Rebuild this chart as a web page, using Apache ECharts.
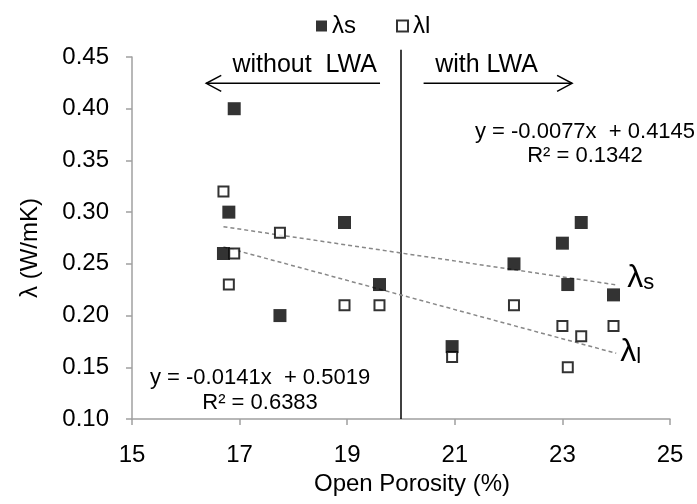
<!DOCTYPE html>
<html>
<head>
<meta charset="utf-8">
<script src="https://cdn.jsdelivr.net/npm/echarts@6/dist/echarts.min.js"></script>
<style>
  html, body { margin: 0; padding: 0; background: #fff; }
  #chart { width: 697px; height: 504px; }
</style>
</head>
<body>
<div id="chart"></div>
<script>
// Open porosity (%) and thermal conductivity (W/mK) of each mix
const porosityS = [16.9, 16.8, 16.7, 18.95, 17.75, 19.6, 23.35, 23.0, 22.1, 23.1, 23.95, 20.95];
const lambdaS   = [0.40, 0.30, 0.26, 0.29, 0.20, 0.23, 0.29, 0.27, 0.25, 0.23, 0.22, 0.17];
const porosityL = [16.7, 16.9, 17.75, 16.8, 18.95, 19.6, 22.1, 23.0, 23.95, 23.35, 23.1, 20.95];
const lambdaL   = [0.32, 0.26, 0.28, 0.23, 0.21, 0.21, 0.21, 0.19, 0.19, 0.18, 0.15, 0.16];

// Linear fits (slope, intercept, R²) and the porosity span they cover
const fitS = [-0.0077, 0.4145, 0.1342];
const fitL = [-0.0141, 0.5019, 0.6383];
const fitRange = [16.7, 24];

// Boundary between mixes without and with lightweight aggregate
const lwaBoundary = 20;

const seriesNames = ['λs', 'λl'];
const FONT = '"Liberation Sans", Arial, sans-serif';

const zip = (xs, ys) => xs.map((x, i) => [x, ys[i]]);
const fitLine = f => fitRange.map(x => [x, +(f[0] * x + f[1]).toFixed(5)]);
const eqText = f => 'y = ' + f[0].toFixed(4) + 'x  + ' + f[1].toFixed(4);
const r2Text = f => 'R² = ' + f[2].toFixed(4);

const chart = echarts.init(document.getElementById('chart'));

const axisGray = '#a0a0a0';
const trendStyle = { color: '#888', width: 1.5, type: [4, 3] };

// λ with a subscript, drawn at the end of each fit line
function trendLabel(sub, distance, dy) {
  return {
    show: true,
    distance: distance,
    offset: [0, dy],
    formatter: '{a|λ}{b|' + sub + '}',
    rich: {
      a: { fontFamily: FONT, fontSize: 32, lineHeight: 32, color: '#000', verticalAlign: 'top' },
      b: { fontFamily: FONT, fontSize: 22, lineHeight: 22, color: '#000', verticalAlign: 'bottom', padding: [14, 0, 0, 0] }
    }
  };
}

chart.setOption({
  animation: false,
  backgroundColor: '#fff',
  textStyle: { fontFamily: FONT },
  grid: { left: 132, right: 27, top: 57, bottom: 85 },
  legend: {
    data: seriesNames,
    top: 9,
    left: 311,
    itemWidth: 11,
    itemHeight: 11,
    itemGap: 40,
    icon: 'rect',
    textStyle: { fontFamily: FONT, fontSize: 24, color: '#000' }
  },
  xAxis: {
    type: 'value',
    min: 15, max: 25, interval: 2,
    name: 'Open Porosity (%)',
    nameLocation: 'middle',
    nameGap: 50,
    nameTextStyle: { fontFamily: FONT, fontSize: 24, color: '#000', padding: [0, 0, 0, 22] },
    axisLine: { show: true, lineStyle: { color: axisGray, width: 1.5 } },
    axisTick: { show: true, length: 6, lineStyle: { color: axisGray, width: 1.5 } },
    axisLabel: { fontFamily: FONT, fontSize: 24, color: '#000', margin: 24 },
    splitLine: { show: false }
  },
  yAxis: {
    type: 'value',
    min: 0.1, max: 0.45, interval: 0.05,
    name: 'λ (W/mK)',
    nameLocation: 'middle',
    nameGap: 90,
    nameTextStyle: { fontFamily: FONT, fontSize: 24, color: '#000', padding: [0, 20, 0, 0] },
    axisLine: { show: true, lineStyle: { color: axisGray, width: 1.5 } },
    axisTick: { show: true, length: 6, lineStyle: { color: axisGray, width: 1.5 } },
    axisLabel: { fontFamily: FONT, fontSize: 24, color: '#000', margin: 23, formatter: v => v.toFixed(2) },
    splitLine: { show: false }
  },
  series: [
    {
      name: 'boundary',
      type: 'line',
      data: [[lwaBoundary, 0.1], [lwaBoundary, 0.457]],
      symbol: 'none',
      clip: false,
      silent: true,
      lineStyle: { color: '#000', width: 1.5 },
      z: 1
    },
    {
      name: 'fitS',
      type: 'line',
      data: fitLine(fitS),
      symbol: 'none',
      lineStyle: trendStyle,
      endLabel: trendLabel('s', 11, -6.5),
      z: 2
    },
    {
      name: 'fitL',
      type: 'line',
      data: fitLine(fitL),
      symbol: 'none',
      lineStyle: trendStyle,
      endLabel: trendLabel('l', 4, -1),
      z: 2
    },
    {
      name: seriesNames[0],
      type: 'scatter',
      data: zip(porosityS, lambdaS),
      symbol: 'rect',
      symbolSize: 13,
      itemStyle: { color: '#000' },
      z: 3
    },
    {
      name: seriesNames[1],
      type: 'scatter',
      data: zip(porosityL, lambdaL),
      symbol: 'rect',
      symbolSize: 10,
      itemStyle: { color: '#fff', borderColor: '#000', borderWidth: 2 },
      z: 4
    }
  ]
});

// Annotations anchored in data coordinates: region arrows, region titles and fit equations
const px = (x, y) => chart.convertToPixel({ gridIndex: 0 }, [x, y]);

function arrow(x0, x1, y) {
  const a = px(x0, y), b = px(x1, y);
  const dir = Math.sign(b[0] - a[0]);
  return [
    { type: 'line', shape: { x1: a[0], y1: a[1], x2: b[0], y2: b[1] }, style: { stroke: '#000', lineWidth: 1.5 } },
    { type: 'polyline', shape: { points: [[b[0] - dir * 15, b[1] - 8], [b[0], b[1]], [b[0] - dir * 15, b[1] + 8]] },
      style: { stroke: '#000', lineWidth: 1.5, fill: null } }
  ];
}

function label(x, y, text, size) {
  const p = px(x, y);
  return { type: 'text', x: p[0], y: p[1],
    style: { text, fontFamily: FONT, fontSize: size, fill: '#000', align: 'center', verticalAlign: 'middle' } };
}

const arrowY = 0.4245;
chart.setOption({
  graphic: [
    ...arrow(19.61, 16.38, arrowY),
    ...arrow(20.42, 23.18, arrowY),
    label(18.21, 0.442, 'without  LWA', 25),
    label(21.59, 0.442, 'with LWA', 25),
    label(23.42, 0.378, eqText(fitS), 22),
    label(23.42, 0.354, r2Text(fitS), 22),
    label(17.38, 0.140, eqText(fitL), 22),
    label(17.38, 0.116, r2Text(fitL), 22)
  ]
});
</script>
</body>
</html>
